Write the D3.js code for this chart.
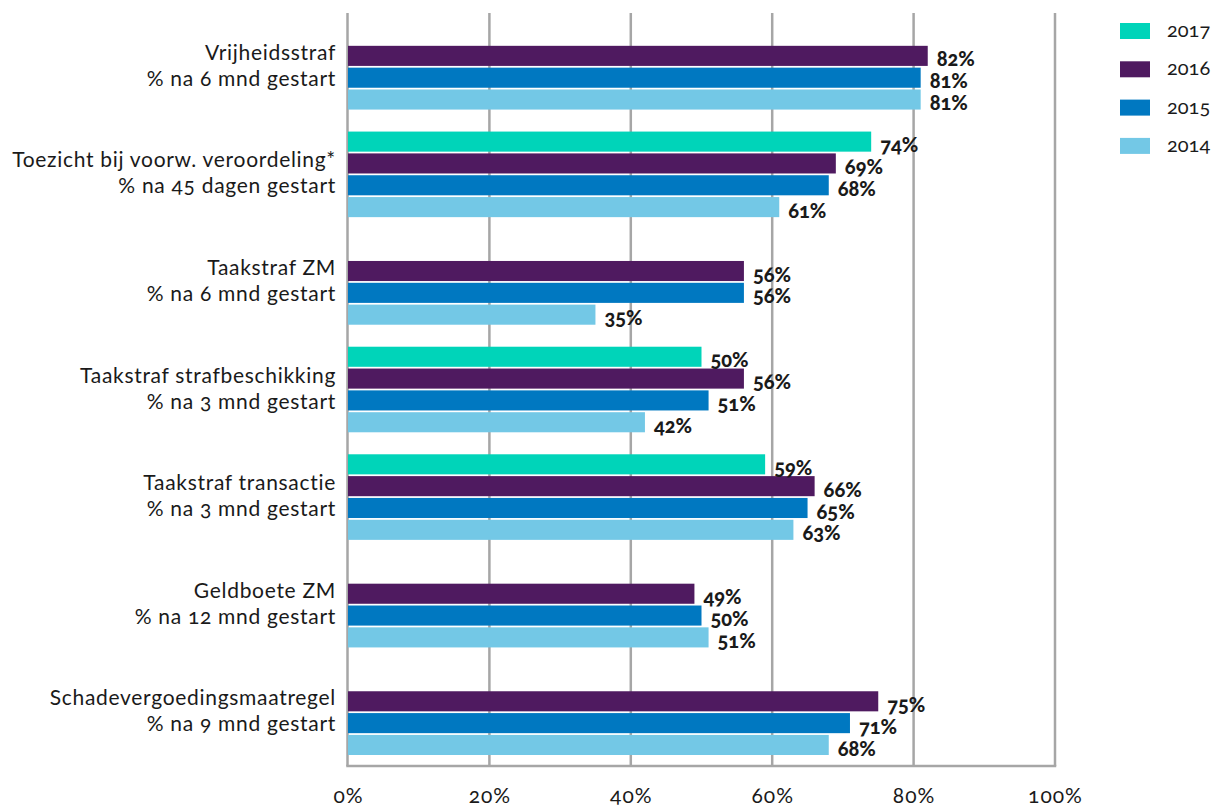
<!DOCTYPE html>
<html><head><meta charset="utf-8">
<script src="https://cdn.jsdelivr.net/npm/d3@7"></script>
<style>
html,body{margin:0;padding:0;background:#fff;}
svg text{font-family:Lato,"Noto Sans",sans-serif;font-variant-numeric:oldstyle-nums;font-feature-settings:"onum" 1;fill:#1a1a1a;}
</style></head><body>
<svg id="chart" width="1213" height="806"></svg>
<script>
const categories = [
  ["Vrijheidsstraf", "% na 6 mnd gestart"],
  ["Toezicht bij voorw. veroordeling*", "% na 45 dagen gestart"],
  ["Taakstraf ZM", "% na 6 mnd gestart"],
  ["Taakstraf strafbeschikking", "% na 3 mnd gestart"],
  ["Taakstraf transactie", "% na 3 mnd gestart"],
  ["Geldboete ZM", "% na 12 mnd gestart"],
  ["Schadevergoedingsmaatregel", "% na 9 mnd gestart"]
];
const years = ["2017", "2016", "2015", "2014"];
const values2017 = [null, 74, null, 50, 59, null, null];
const values2016 = [82, 69, 56, 56, 66, 49, 75];
const values2015 = [81, 68, 56, 51, 65, 50, 71];
const values2014 = [81, 61, 35, 42, 63, 51, 68];
const xTicks = [0, 20, 40, 60, 80, 100];
const colors = ["#00D4B9", "#4F1A60", "#0078C1", "#73C8E6"];

const series = [values2017, values2016, values2015, values2014];
const svg = d3.select("#chart");
const pLeft = 348, pRight = 1055, pTop = 13, pBottom = 766;

const x = d3.scaleLinear().domain([0, 100]).range([pLeft, pRight]);
const y0 = d3.scaleBand().domain(d3.range(categories.length)).range([pTop, pBottom]);
const y1 = d3.scaleBand().domain(years).range([11, y0.bandwidth() - 11]).paddingInner(0.08);
const color = d3.scaleOrdinal().domain(years).range(colors);

// gridlines
const grid = svg.append("g");
grid.selectAll("line").data(xTicks).join("line")
  .attr("x1", d => x(d) - (d === 0 ? 0.5 : 0)).attr("x2", d => x(d) - (d === 0 ? 0.5 : 0))
  .attr("y1", pTop).attr("y2", pBottom)
  .attr("stroke", "#a6a6a6").attr("stroke-width", 2.5);
grid.append("line").attr("x1", x(0) - 1.75).attr("x2", x(100) + 1.25)
  .attr("y1", pBottom).attr("y2", pBottom)
  .attr("stroke", "#a6a6a6").attr("stroke-width", 2.5);

// x axis labels
const xAxis = d3.axisBottom(x).tickValues(xTicks).tickFormat(d => d + "%").tickSize(0).tickPadding(0);
const xg = svg.append("g").attr("transform", `translate(0,${pBottom})`).call(xAxis);
xg.select(".domain").remove();
xg.selectAll("text").attr("dy", null).attr("y", 37)
  .style("font-size", "21px").style("letter-spacing", "1px").style("fill", "#1a1a1a");

// bars
const bars = [];
categories.forEach((c, i) => {
  years.forEach((yr, j) => {
    const v = series[j][i];
    if (v != null) bars.push({ i, yr, v });
  });
});
const bg = svg.append("g");
bg.selectAll("rect").data(bars).join("rect")
  .attr("x", x(0))
  .attr("y", d => y0(d.i) + y1(d.yr))
  .attr("width", d => x(d.v) - x(0))
  .attr("height", y1.bandwidth())
  .attr("fill", d => color(d.yr));

bg.selectAll("text").data(bars).join("text")
  .attr("x", d => x(d.v) + 9)
  .attr("y", d => y0(d.i) + y1(d.yr) + y1.bandwidth() + 0.5)
  .style("font-size", "20px").style("font-weight", "900")
  .text(d => d.v + "%");

// category labels
const lg = svg.append("g");
categories.forEach((c, i) => {
  const cy = y0(i) + y0.bandwidth() / 2;
  lg.append("text").attr("x", 336).attr("y", cy - 7).attr("text-anchor", "end")
    .style("font-size", "21px").style("letter-spacing", "0.7px").text(c[0]);
  lg.append("text").attr("x", 336).attr("y", cy + 19).attr("text-anchor", "end")
    .style("font-size", "21px").style("letter-spacing", "0.7px").text(c[1]);
});

// legend
const leg = svg.append("g");
years.forEach((yr, j) => {
  const ly = 23 + j * 38.3;
  leg.append("rect").attr("x", 1120).attr("y", ly).attr("width", 30).attr("height", 16).attr("fill", color(yr));
  leg.append("text").attr("x", 1167).attr("y", ly + 14).style("font-size", "20px").text(yr);
});
</script>
</body></html>
